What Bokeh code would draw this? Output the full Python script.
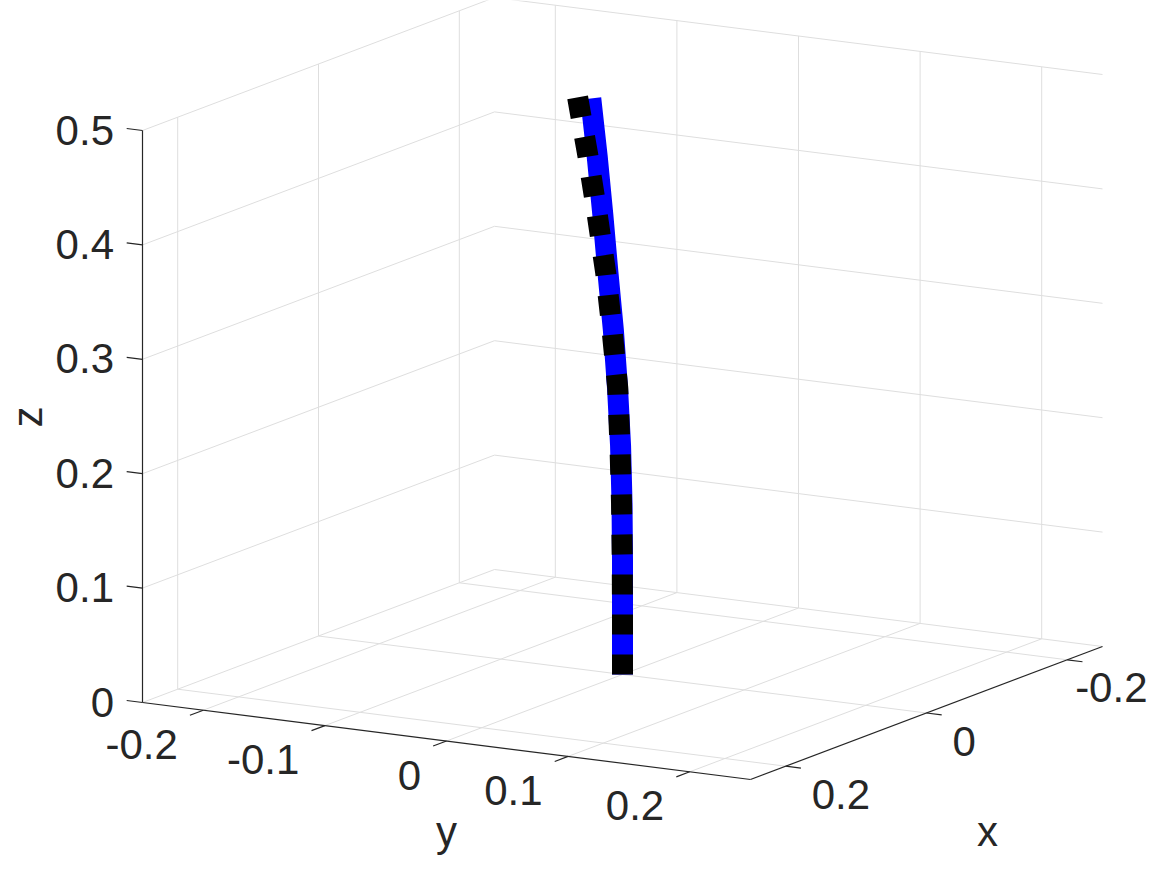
import numpy as np
from bokeh.plotting import figure
from bokeh.models import Range1d
from bokeh.core.properties import value
from bokeh.embed import file_html
from bokeh.resources import INLINE

# ---------------- data ----------------
z_vals  = [0.0, 0.05, 0.10, 0.15, 0.20, 0.25, 0.30, 0.35, 0.40, 0.45, 0.50]
x_blue  = [0.0, 0.0, 0.0, 0.0, 0.0, 0.0, 0.0, 0.0, 0.0, 0.0, 0.0]
y_blue  = [0.0, 0.0, 0.0, -0.0004, -0.0016, -0.0041, -0.0075, -0.0120, -0.0162, -0.0208, -0.0261]
x_black = [0.0, 0.0, 0.0, 0.0, 0.0, 0.0, 0.0, 0.0, 0.0, 0.0, 0.0]
y_black = [0.0, 0.0, -0.0002, -0.0008, -0.0021, -0.0039, -0.0086, -0.0139, -0.0209, -0.0285, -0.0370]

x_lim = (-0.25, 0.25)
y_lim = (-0.25, 0.25)
z_lim = (0.0, 0.5)

x_ticks = [-0.2, 0.0, 0.2]
x_tick_labels = ["-0.2", "0", "0.2"]
y_ticks = [-0.2, -0.1, 0.0, 0.1, 0.2]
y_tick_labels = ["-0.2", "-0.1", "0", "0.1", "0.2"]
z_ticks = [0.0, 0.1, 0.2, 0.3, 0.4, 0.5]
z_tick_labels = ["0", "0.1", "0.2", "0.3", "0.4", "0.5"]

# ---------------- camera (orthographic view) ----------------
W, H = 1151, 859
ORIGIN = (622.0, 674.0)
EX = (-704.0, 266.0)
EY = (1216.0, 154.0)
EZ = (0.0, -1144.0)
FS = 42      # font size in px
BFIX = 15.5  # baseline correction of the text glyph


def proj(x, y, z):
    x = np.asarray(x, float)
    y = np.asarray(y, float)
    z = np.asarray(z, float)
    sx = ORIGIN[0] + x * EX[0] + y * EY[0] + z * EZ[0]
    sy = ORIGIN[1] + x * EX[1] + y * EY[1] + z * EZ[1]
    return sx, sy


def seg(p0, p1):
    a = proj(*p0)
    b = proj(*p1)
    return [float(a[0]), float(b[0])], [float(a[1]), float(b[1])]


def text_width(s):
    w = {"-": 0.333, ".": 0.278}
    return sum(w.get(c, 0.556) for c in s) * FS


FONT = value("Liberation Sans")
AXC = "#262626"
GRIDC = "#dedede"

p = figure(width=W, height=H, x_range=Range1d(0, W), y_range=Range1d(H, 0),
           min_border=0, toolbar_location=None, output_backend="svg",
           x_axis_location=None, y_axis_location=None)
p.outline_line_color = None
p.grid.visible = False
p.background_fill_color = "white"
p.border_fill_color = "white"

xmin, xmax = x_lim
ymin, ymax = y_lim
zmin, zmax = z_lim

# ---- grid lines on back planes ----
gxs, gys = [], []
for xt in x_ticks:
    for a, b in [((xt, ymin, zmin), (xt, ymax, zmin)), ((xt, ymin, zmin), (xt, ymin, zmax))]:
        sx, sy = seg(a, b); gxs.append(sx); gys.append(sy)
for yt in y_ticks:
    for a, b in [((xmin, yt, zmin), (xmax, yt, zmin)), ((xmin, yt, zmin), (xmin, yt, zmax))]:
        sx, sy = seg(a, b); gxs.append(sx); gys.append(sy)
for zt in z_ticks:
    for a, b in [((xmin, ymin, zt), (xmax, ymin, zt)), ((xmin, ymin, zt), (xmin, ymax, zt))]:
        sx, sy = seg(a, b); gxs.append(sx); gys.append(sy)
p.multi_line(gxs, gys, line_color=GRIDC, line_width=1)

# ---- axis lines and ticks ----
axs, ays = [], []
for a, b in [((xmax, ymin, zmin), (xmax, ymin, zmax)),
             ((xmax, ymin, zmin), (xmax, ymax, zmin)),
             ((xmin, ymax, zmin), (xmax, ymax, zmin))]:
    sx, sy = seg(a, b); axs.append(sx); ays.append(sy)
for zt in z_ticks:
    sx, sy = seg((xmax, ymin, zt), (xmax, ymin - 0.013, zt)); axs.append(sx); ays.append(sy)
for yt in y_ticks:
    sx, sy = seg((xmax, yt, zmin), (xmax + 0.019, yt, zmin)); axs.append(sx); ays.append(sy)
for xt in x_ticks:
    sx, sy = seg((xt, ymax, zmin), (xt, ymax + 0.0125, zmin)); axs.append(sx); ays.append(sy)
p.multi_line(axs, ays, line_color=AXC, line_width=1.2)

# ---- tick labels ----
zx, zy = proj([xmax] * len(z_ticks), [ymin] * len(z_ticks), z_ticks)
p.text(x=list(zx - 28.5), y=list(zy + 15 - BFIX), text=z_tick_labels, text_font=FONT,
       text_font_size=f"{FS}px", text_color=AXC, text_align="right", text_baseline="alphabetic")

yx, yy = proj([xmax] * len(y_ticks), y_ticks, [zmin] * len(y_ticks))
p.text(x=list(yx - 25.5), y=list(yy + 49.5 - BFIX), text=y_tick_labels, text_font=FONT,
       text_font_size=f"{FS}px", text_color=AXC, text_align="right", text_baseline="alphabetic")

xx, xy = proj(x_ticks, [ymax] * len(x_ticks), [zmin] * len(x_ticks))
x_lab_x = [min(float(px) + 26, W - 4 - text_width(s)) for px, s in zip(xx, x_tick_labels)]
p.text(x=x_lab_x, y=list(xy + 43.5 - BFIX), text=x_tick_labels, text_font=FONT,
       text_font_size=f"{FS}px", text_color=AXC, text_align="left", text_baseline="alphabetic")

# ---- axis labels ----
max_base = H - 0.22 * FS - 3          # lowest baseline that keeps the descender inside
p.text(x=[42 - BFIX], y=[416.5], text=["z"], angle=np.pi / 2, text_font=FONT,
       text_font_size=f"{FS}px", text_color=AXC, text_align="center", text_baseline="alphabetic")
p.text(x=[446], y=[min(863, max_base) - BFIX], text=["y"], text_font=FONT,
       text_font_size=f"{FS}px", text_color=AXC, text_align="center", text_baseline="alphabetic")
p.text(x=[987], y=[min(850, max_base) - BFIX], text=["x"], text_font=FONT,
       text_font_size=f"{FS}px", text_color=AXC, text_align="center", text_baseline="alphabetic")

# ---- curves ----
bx, by = proj(x_blue, y_blue, z_vals)
p.line(list(bx), list(by), line_color="#0000ff", line_width=21, line_cap="butt", line_join="round")
kx, ky = proj(x_black, y_black, z_vals)
p.line(list(kx), list(ky), line_color="#000000", line_width=21, line_dash="20 20",
       line_cap="butt", line_join="round")

open("out.html", "w").write(file_html(p, INLINE))
